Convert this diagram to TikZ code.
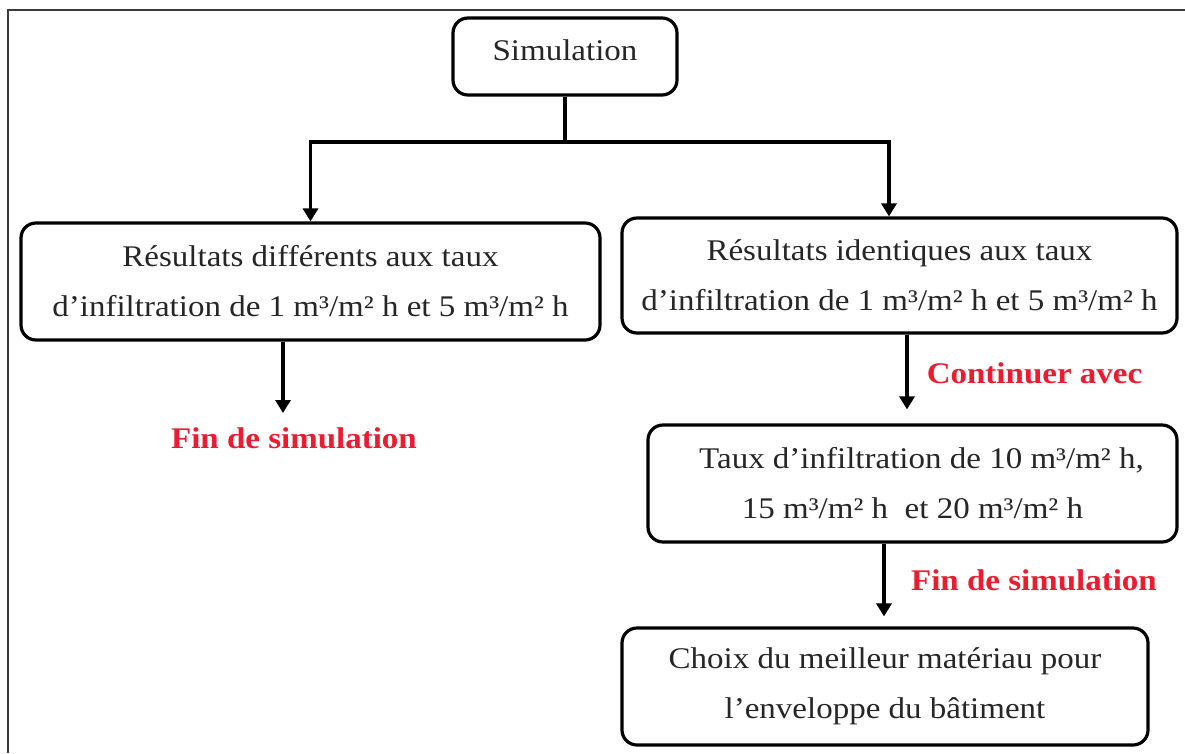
\documentclass[tikz,border=0pt]{standalone}
\usepackage{fontspec}
\setmainfont{Liberation Serif}[FakeStretch=1.1]
\usetikzlibrary{arrows.meta,calc}
\definecolor{lblred}{RGB}{236,28,48}
\definecolor{framegray}{RGB}{60,60,60}
\begin{document}
\begin{tikzpicture}[x=1pt,y=1pt,
  box/.style={draw=black,line width=3.2pt,rounded corners=15pt,align=center,
    inner sep=0pt,font=\fontsize{30}{50}\selectfont,text=black!85},
  redlbl/.style={text=lblred,font=\fontsize{30}{36}\selectfont\bfseries,inner sep=0pt},
  arr/.style={line width=3.4pt,-{Triangle[length=13pt,width=15pt]}},
  conn/.style={line width=3.4pt}]
\useasboundingbox (0,0) rectangle (1185,-753);
% frame (partially visible)
\draw[framegray,line width=1.8pt] (8,-753) -- (8,-10) -- (1185,-10);
% nodes
\node[box,minimum width=224pt,minimum height=77pt,text depth=12pt] (sim) at (565,-56.5) {Simulation};
\node[box,minimum width=579pt,minimum height=117pt] (L) at (310.5,-281.5)
  {Résultats différents aux taux\\d’infiltration de 1 m³/m² h et 5 m³/m² h};
\node[box,minimum width=555pt,minimum height=115pt] (R) at (899.5,-275.5)
  {Résultats identiques aux taux\\d’infiltration de 1 m³/m² h et 5 m³/m² h};
\node[box,minimum width=529pt,minimum height=117pt] (B3) at (912.5,-483.5)
  {\hspace*{18pt}Taux d’infiltration de 10 m³/m² h,\\15 m³/m² h\ \ et 20 m³/m² h};
\node[box,minimum width=526pt,minimum height=117pt] (B4) at (885,-686.5)
  {Choix du meilleur matériau pour\\l’enveloppe du bâtiment};
\node[redlbl] (fin1) at (294,-438) {Fin de simulation};
\node[redlbl] (cont) at (1034.5,-373) {Continuer avec};
\node[redlbl] (fin2) at (1034,-580) {Fin de simulation};
% connectors
\coordinate (j) at (565,-142);
\coordinate (e1) at (283,-413);
\draw[conn] (sim.south) -- (j);
\draw[arr] (j) -| (L.north);
\draw[arr] (j) -| ([xshift=-10.5pt]R.north);
\draw[arr] (e1 |- L.south) -- (e1);
\draw[arr,shorten >=14pt] ([xshift=7.5pt]R.south) -- ([xshift=7.5pt]R.south |- B3.north);
\draw[arr,shorten >=10pt] ([xshift=-28.5pt]B3.south) -- ([xshift=-28.5pt]B3.south |- B4.north);
\end{tikzpicture}
\end{document}
